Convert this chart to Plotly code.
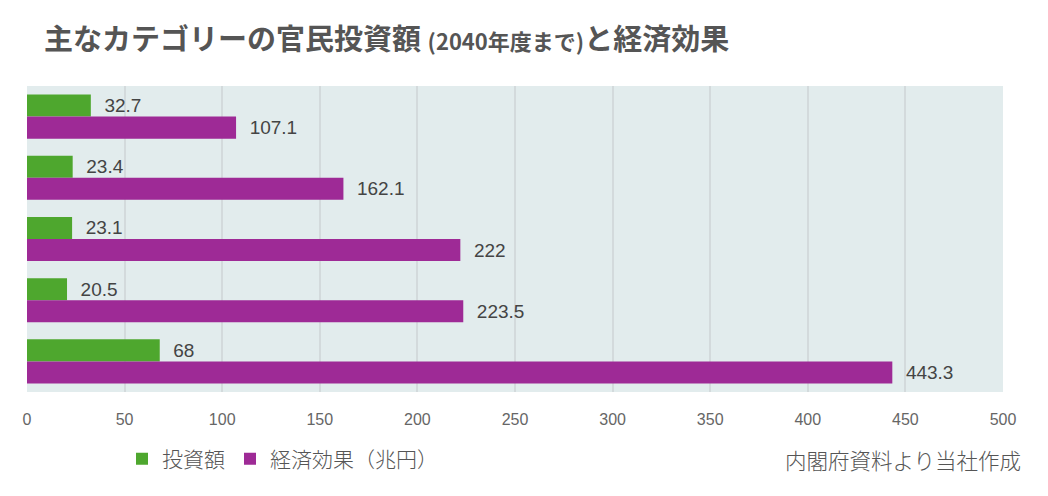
import plotly.graph_objects as go

categories = ["カテゴリー1", "カテゴリー2", "カテゴリー3", "カテゴリー4", "カテゴリー5"]
investment = [32.7, 23.4, 23.1, 20.5, 68]
economic = [107.1, 162.1, 222, 223.5, 443.3]
investment_labels = ["32.7", "23.4", "23.1", "20.5", "68"]
economic_labels = ["107.1", "162.1", "222", "223.5", "443.3"]
series_names = ["投資額", "経済効果（兆円）"]
tick_vals = [0, 50, 100, 150, 200, 250, 300, 350, 400, 450, 500]

GREEN = "#4ea72e"
PURPLE = "#9e2a96"
NB = "\u00a0\u00a0"
LABEL_FONT = dict(family="Liberation Sans, Arial, sans-serif", size=19, color="#444444")

fig = go.Figure()
fig.add_trace(go.Bar(
    y=categories, x=investment, orientation="h", name=series_names[0],
    marker=dict(color=GREEN, line=dict(width=0)),
    text=[NB + t for t in investment_labels], textposition="outside",
    textfont=LABEL_FONT, cliponaxis=False,
))
fig.add_trace(go.Bar(
    y=categories, x=economic, orientation="h", name=series_names[1],
    marker=dict(color=PURPLE, line=dict(width=0)),
    text=[NB + t for t in economic_labels], textposition="outside",
    textfont=LABEL_FONT, cliponaxis=False,
))

fig.update_layout(
    width=1048, height=496,
    margin=dict(l=27, r=45, t=86, b=104),
    paper_bgcolor="white",
    plot_bgcolor="#e2eced",
    barmode="group",
    bargap=0.28,
    bargroupgap=0.0,
    title=dict(
        text="<b>主なカテゴリーの官民投資額 <span style='font-size:22px'>(2040年度まで)</span>と経済効果</b>",
        font=dict(family="Noto Sans CJK JP", size=29, color="#555555"),
        xref="container", x=44/1048, xanchor="left",
        yref="container", y=1-40/496, yanchor="middle",
    ),
    xaxis=dict(
        range=[0, 500], tickvals=tick_vals, showgrid=True,
        gridcolor="#d3dadc", gridwidth=2, zeroline=False,
        tickfont=dict(family="Liberation Sans, Arial, sans-serif", size=16, color="#666666"),
        ticks="", ticklabelstandoff=16, showline=False,
    ),
    yaxis=dict(
        autorange="reversed", showticklabels=False, showgrid=False,
        zeroline=False, showline=False, ticks="",
    ),
    legend=dict(
        orientation="h", x=(122-27)/976, xanchor="left",
        y=(392-459)/306, yanchor="middle",
        font=dict(family="Noto Sans CJK JP", size=21, color="#555555", weight=300),
        itemwidth=30, tracegroupgap=0,
        bgcolor="rgba(0,0,0,0)",
    ),
    showlegend=True,
)
fig.add_annotation(
    text="内閣府資料より当社作成", xref="paper", yref="paper",
    x=(1023-27)/976, y=(392-459)/306, xanchor="right", yanchor="middle",
    showarrow=False,
    font=dict(family="Noto Sans CJK JP", size=21.5, color="#555555", weight=300),
)

fig.write_html("out.html")
